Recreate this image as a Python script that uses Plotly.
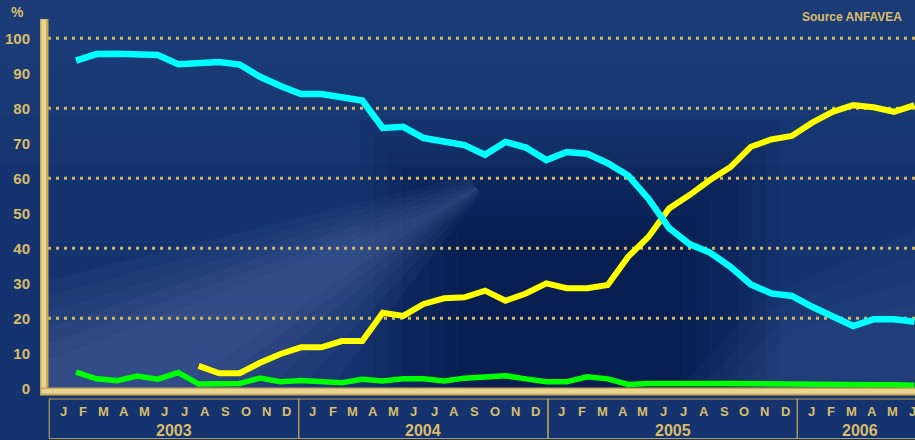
import plotly.graph_objects as go

# ---------------- data ----------------
MONTHS = ["J", "F", "M", "A", "M", "J", "J", "A", "S", "O", "N", "D"]
YEARS = ["2003", "2004", "2005", "2006"]
MONTHS_IN_YEAR = [12, 12, 12, 6]

# monthly share (%) Jan 2003 .. Jun 2006
GASOLINE = [93.6, 95.5, 95.6, 95.2, 95.2, 92.6, 92.9, 93.2, 92.5, 89.0, 86.4, 84.1,
            84.1, 83.1, 82.2, 74.4, 74.7, 71.5, 70.5, 69.5, 66.7, 70.4, 68.8, 65.2,
            67.5, 67.0, 64.3, 60.8, 54.1, 45.8, 41.2, 38.8, 34.7, 29.7, 27.1, 26.4,
            23.3, 20.3, 17.8, 19.7, 19.7, 19.0]
FLEX = [None, None, None, None, None, None, 6.4, 4.3, 4.3, 7.3, 9.8, 11.7,
        11.7, 13.5, 13.5, 21.6, 20.7, 24.1, 25.7, 26.0, 27.9, 25.0, 27.1, 30.0,
        28.6, 28.6, 29.5, 37.6, 43.3, 51.4, 55.2, 59.5, 63.2, 69.0, 71.1, 72.1,
        75.9, 79.0, 80.9, 80.3, 79.0, 80.9]
ALCOHOL = [4.6, 2.7, 2.2, 3.5, 2.6, 4.5, 1.2, 1.3, 1.4, 2.9, 1.9, 2.2,
           1.9, 1.6, 2.6, 2.1, 2.7, 2.7, 2.1, 2.9, 3.2, 3.6, 2.7, 1.9,
           1.9, 3.3, 2.7, 1.1, 1.4, 1.5, 1.5, 1.4, 1.4, 1.3, 1.2, 1.1,
           1.0, 1.0, 1.0, 1.0, 1.0, 0.9]
Y_TICKS = [0, 10, 20, 30, 40, 50, 60, 70, 80, 90, 100]
GRID_VALUES = [20, 40, 60, 80, 100]
SOURCE = "Source ANFAVEA"

# ---------------- styling / geometry ----------------
W, H = 915, 440
L, R, T, B = 48, 0, 20, 45
PW, PH = W - L - R, H - T - B
X0_PX, DX_PX = 76.0, 20.45          # pixel of first month, pixels per month
Y0_PX, DY_PX = 388.3, 3.5           # pixel of value 0, pixels per unit
GOLD = "#D8BE6A"
GOLD_DOT = "#D4B860"
FONT = "Liberation Sans, Arial, sans-serif"

def px2m(px):
    return (px - X0_PX) / DX_PX

def xp(px):
    return (px - L) / PW

def yp(py):
    return (H - B - py) / PH

def poly(points):
    return "M " + " L ".join("{} {}".format(xp(a), yp(b)) for a, b in points) + " Z"

months_idx = list(range(len(GASOLINE)))

fig = go.Figure()
fig.add_trace(go.Scatter(x=months_idx, y=ALCOHOL, mode="lines",
                         line=dict(color="#00FF00", width=5.5), name="Alcohol"))
fig.add_trace(go.Scatter(x=months_idx, y=FLEX, mode="lines",
                         line=dict(color="#FFFF00", width=6), name="Flex"))
fig.add_trace(go.Scatter(x=months_idx, y=GASOLINE, mode="lines",
                         line=dict(color="#00FFFF", width=6.5), name="Gasoline"))

shapes = []
# soft background: lighter top band
for i in range(6):
    shapes.append(dict(type="rect", xref="paper", yref="paper", x0=xp(0), x1=xp(W),
                       y0=yp(0), y1=yp(40 + 25 * i), fillcolor="rgba(70,100,160,0.035)",
                       line_width=0, layer="below"))
# soft darker central zone
for i in range(8):
    shapes.append(dict(type="rect", xref="paper", yref="paper",
                       x0=xp(360 + 14 * i), x1=xp(780 - 14 * i),
                       y0=yp(392), y1=yp(120 + 16 * i),
                       fillcolor="rgba(0,12,60,0.075)", line_width=0, layer="below"))
# soft light rays from lower left
for i in range(6):
    shapes.append(dict(type="path", xref="paper", yref="paper",
                       path=poly([(48, 388), (48, 280 + 16 * i), (470, 175 + 4 * i),
                                  (480, 195 - 2 * i), (330 - 30 * i, 388)]),
                       fillcolor="rgba(120,150,205,0.055)", line_width=0, layer="below"))
# lighter lower right
for i in range(4):
    shapes.append(dict(type="path", xref="paper", yref="paper",
                       path=poly([(680 + 20 * i, 388), (915, 388), (915, 230 + 25 * i), (760 + 10 * i, 300 + 10 * i)]),
                       fillcolor="rgba(90,120,180,0.05)", line_width=0, layer="below"))

# dotted grid lines
for g in GRID_VALUES:
    shapes.append(dict(type="line", xref="paper", yref="y", x0=0, x1=1, y0=g, y1=g,
                       line=dict(color=GOLD_DOT, width=3, dash="3px,5px"), layer="below"))

# gold axis bars
shapes.append(dict(type="rect", xref="paper", yref="paper", x0=xp(40), x1=xp(48.5),
                   y0=yp(395), y1=yp(19), fillcolor="#C8A95A", line_width=0, layer="above"))
shapes.append(dict(type="rect", xref="paper", yref="paper", x0=xp(41.5), x1=xp(46),
                   y0=yp(393), y1=yp(19.5), fillcolor="#E8D592", line_width=0, layer="above"))
shapes.append(dict(type="rect", xref="paper", yref="paper", x0=xp(40), x1=xp(W),
                   y0=yp(395.5), y1=yp(387.5), fillcolor="#C8A95A", line_width=0, layer="above"))
shapes.append(dict(type="rect", xref="paper", yref="paper", x0=xp(41.5), x1=xp(W),
                   y0=yp(393.5), y1=yp(389), fillcolor="#E8D592", line_width=0, layer="above"))

# year boxes
BOX_LEFT_PX, BOX_MONTH_PX, LABEL_STEP_PX = 49.3, 20.78, 20.3
box_top, box_bot = 399, 438.5
annotations = []
start = 0
for yi, (yr, n) in enumerate(zip(YEARS, MONTHS_IN_YEAR)):
    left_px = BOX_LEFT_PX + BOX_MONTH_PX * start
    right_px = BOX_LEFT_PX + BOX_MONTH_PX * (start + 12)
    shapes.append(dict(type="rect", xref="paper", yref="paper",
                       x0=xp(left_px), x1=xp(right_px), y0=yp(box_bot), y1=yp(box_top),
                       line=dict(color="#B89C55", width=1.2), fillcolor="rgba(0,0,0,0)", layer="above"))
    for k in range(n):
        lab_px = left_px + 13.7 + LABEL_STEP_PX * k
        annotations.append(dict(x=px2m(lab_px), xref="x", y=yp(411.5), yref="paper",
                                text=MONTHS[k], showarrow=False,
                                font=dict(family=FONT, size=13, color=GOLD, weight="bold"),
                                xanchor="center", yanchor="middle"))
    annotations.append(dict(x=px2m(left_px + BOX_MONTH_PX * n / 2), xref="x", y=yp(430), yref="paper",
                            text=yr, showarrow=False,
                            font=dict(family=FONT, size=16, color=GOLD, weight="bold"),
                            xanchor="center", yanchor="middle"))
    start += 12

annotations.append(dict(x=xp(18), xref="paper", y=yp(12), yref="paper", text="%",
                        showarrow=False, font=dict(family=FONT, size=14, color=GOLD, weight="bold"),
                        xanchor="center", yanchor="middle"))
annotations.append(dict(x=xp(904), xref="paper", y=yp(17), yref="paper", text=SOURCE,
                        showarrow=False, font=dict(family=FONT, size=12, color=GOLD, weight="bold"),
                        xanchor="right", yanchor="middle"))

fig.update_layout(
    width=W, height=H,
    margin=dict(l=L, r=R, t=T, b=B, pad=0),
    paper_bgcolor="#15336F",
    plot_bgcolor="rgba(0,0,0,0)",
    showlegend=False,
    hovermode=False,
    shapes=shapes,
    annotations=annotations,
    xaxis=dict(range=[px2m(L), px2m(W - R)], showgrid=False, zeroline=False,
               showticklabels=False, showline=False, ticks=""),
    yaxis=dict(range=[(Y0_PX - (H - B)) / DY_PX, (Y0_PX - T) / DY_PX],
               tickvals=Y_TICKS, ticktext=[str(v) for v in Y_TICKS],
               showgrid=False, zeroline=False, showline=False, ticks="",
               ticklabelstandoff=17,
               tickfont=dict(family=FONT, size=15, color=GOLD, weight="bold")),
)

fig.write_html("out.html", config={"displayModeBar": False})
